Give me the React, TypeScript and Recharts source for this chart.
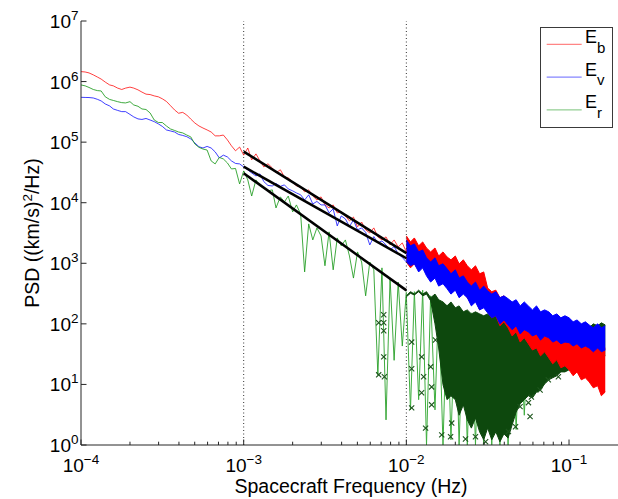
import React from 'react';
import { ComposedChart, Line, Area, Scatter, XAxis, YAxis, ReferenceLine, Legend, Label } from 'recharts';

const W = 618;
const H = 499;
const FONT = '"Liberation Sans", Arial, Helvetica, sans-serif';
const AXIS = '#262626';

const RED = '#ff0000';
const BLUE = '#0000ff';
const GREEN = '#1f9b1f';
const GREEN_LIGHT = '#3fae3f';
const GREEN_DARK = '#0d480d';
const MARK = '#1d561d';

const X_DOMAIN = [1e-4, 0.2];
const Y_DOMAIN = [1, 1e7];

// log-spaced frequency bins, 1e-4 .. 1e-2 Hz
const lowFreq = [
  1.00e-4, 1.06e-4, 1.12e-4, 1.19e-4, 1.26e-4, 1.33e-4, 1.41e-4, 1.50e-4, 1.58e-4, 1.68e-4,
  1.78e-4, 1.88e-4, 2.00e-4, 2.11e-4, 2.24e-4, 2.37e-4, 2.51e-4, 2.66e-4, 2.82e-4, 2.99e-4,
  3.16e-4, 3.35e-4, 3.55e-4, 3.76e-4, 3.98e-4, 4.22e-4, 4.47e-4, 4.73e-4, 5.01e-4, 5.31e-4,
  5.62e-4, 5.96e-4, 6.31e-4, 6.68e-4, 7.08e-4, 7.50e-4, 7.94e-4, 8.41e-4, 8.91e-4, 9.44e-4,
  1.00e-3, 1.06e-3, 1.12e-3, 1.19e-3, 1.26e-3, 1.33e-3, 1.41e-3, 1.50e-3, 1.58e-3, 1.68e-3,
  1.78e-3, 1.88e-3, 2.00e-3, 2.11e-3, 2.24e-3, 2.37e-3, 2.51e-3, 2.66e-3, 2.82e-3, 2.99e-3,
  3.16e-3, 3.35e-3, 3.55e-3, 3.76e-3, 3.98e-3, 4.22e-3, 4.47e-3, 4.73e-3, 5.01e-3, 5.31e-3,
  5.62e-3, 5.96e-3, 6.31e-3, 6.68e-3, 7.08e-3, 7.50e-3, 7.94e-3, 8.41e-3, 8.91e-3, 9.44e-3,
  1.00e-2,
];

// PSD, (km/s)^2/Hz
const ebLow = [
  1.46e6, 1.44e6, 1.39e6, 1.29e6, 1.19e6, 1.10e6, 9.8e5, 8.8e5, 8.5e5, 7.8e5,
  7.4e5, 7.8e5, 8.1e5, 7.8e5, 7.3e5, 6.7e5, 6.2e5, 6.1e5, 5.8e5, 5.6e5,
  5.2e5, 4.7e5, 4.0e5, 3.4e5, 3.0e5, 3.1e5, 2.8e5, 2.4e5, 2.07e5, 1.85e5,
  1.71e5, 1.59e5, 1.47e5, 1.27e5, 1.27e5, 1.31e5, 1.09e5, 8.7e4, 7.2e4, 8.3e4,
  6.1e4, 8.0e4, 5.1e4, 6.4e4, 4.9e4, 3.9e4, 4.4e4, 3.75e4, 3.1e4, 3.5e4,
  2.67e4, 2.57e4, 2.2e4, 1.89e4, 1.82e4, 1.51e4, 1.63e4, 1.29e4, 1.11e4, 1.25e4,
  9.2e3, 8.2e3, 9.2e3, 6.8e3, 7.05e3, 6.05e3, 5.0e3, 5.8e3, 4.0e3, 4.8e3,
  3.56e3, 3.17e3, 3.84e3, 2.73e3, 2.43e3, 2.73e3, 2.01e3, 2.43e3, 1.86e3, 2.17e3,
  1.54e3,
];

const evLow = [
  5.5e5, 5.47e5, 5.45e5, 5.36e5, 5.1e5, 4.79e5, 4.27e5, 3.96e5, 3.53e5, 3.34e5,
  3.19e5, 3.19e5, 2.87e5, 2.61e5, 2.42e5, 2.37e5, 2.46e5, 2.32e5, 2.18e5, 2.0e5,
  1.82e5, 1.59e5, 1.53e5, 1.47e5, 1.34e5, 1.29e5, 1.23e5, 1.13e5, 9.7e4, 8.4e4,
  8.0e4, 8.5e4, 8.0e4, 6.9e4, 5.5e4, 6.1e4, 5.7e4, 4.9e4, 4.45e4, 4.37e4,
  3.9e4, 3.48e4, 3.1e4, 2.77e4, 2.99e4, 2.23e4, 1.93e4, 1.89e4, 2.08e4, 1.86e4,
  1.97e4, 1.69e4, 1.57e4, 1.45e4, 1.35e4, 1.11e4, 1.35e4, 9.55e3, 1.05e4, 9.2e3,
  9.2e3, 6.8e3, 7.9e3, 4.14e3, 6.05e3, 5.4e3, 4.04e3, 5.2e3, 3.56e3, 3.84e3,
  3.24e3, 2.01e3, 2.76e3, 2.17e3, 2.34e3, 2.01e3, 1.66e3, 1.89e3, 1.43e3, 1.25e3,
  1.05e3,
];

const erLow = [
  8.8e5, 8.5e5, 8.0e5, 7.4e5, 7.1e5, 7.0e5, 5.6e5, 5.07e5, 4.88e5, 4.66e5,
  4.49e5, 4.44e5, 4.66e5, 4.11e5, 3.91e5, 3.53e5, 3.46e5, 3.03e5, 2.32e5, 2.11e5,
  2.11e5, 1.85e5, 1.65e5, 1.56e5, 1.47e5, 1.42e5, 1.31e5, 1.22e5, 9.3e4, 8.2e4,
  7.7e4, 7.4e4, 4.9e4, 4.37e4, 5.6e4, 5.28e4, 4.54e4, 3.61e4, 3.68e4, 2.04e4,
  3.35e4, 2.38e4, 1.29e4, 2.38e4, 1.89e4, 1.75e4, 1.57e4, 1.63e4, 8.2e3, 1.25e4,
  1.03e4, 1.29e4, 7.05e3, 9.2e3, 6.5e3, 7.2e2, 4.47e3, 2.43e3, 3.84e3, 2.83e3,
  9.1e2, 3.3e3, 7.8e2, 2.62e3, 1.94e3, 2.43e3, 1.32e3, 5.7e2, 1.54e3, 1.05e3,
  2.9e2, 1.05e3, 7.8e2, 14.4, 8.4e2, 2.6, 5.7e2, 25, 4.9e2, 43,
  3.4e2,
];

// above 1e-2 Hz the spectra are noise-dominated: spread given as lower / upper envelope
const highFreq = [
  1.00e-2, 1.06e-2, 1.12e-2, 1.19e-2, 1.26e-2, 1.33e-2, 1.41e-2, 1.50e-2, 1.58e-2, 1.68e-2,
  1.78e-2, 1.88e-2, 2.00e-2, 2.11e-2, 2.24e-2, 2.37e-2, 2.51e-2, 2.66e-2, 2.82e-2, 2.99e-2,
  3.16e-2, 3.35e-2, 3.55e-2, 3.76e-2, 3.98e-2, 4.22e-2, 4.47e-2, 4.73e-2, 5.01e-2, 5.31e-2,
  5.62e-2, 5.96e-2, 6.31e-2, 6.68e-2, 7.08e-2, 7.50e-2, 7.94e-2, 8.41e-2, 8.91e-2, 9.44e-2,
  0.100, 0.106, 0.112, 0.119, 0.126, 0.133, 0.141, 0.150, 0.158, 0.167,
];

const ebHi = [
  2.83e3, 2.25e3, 2.62e3, 1.94e3, 2.25e3, 1.79e3, 1.54e3, 1.79e3, 1.32e3, 1.54e3,
  1.27e3, 1.14e3, 1.32e3, 9.8e2, 1.14e3, 9.1e2, 7.8e2, 9.1e2, 6.7e2, 7.2e2,
  3.9e2, 3.4e2, 3.6e2, 2.7e2, 2.9e2, 2.3e2, 2.14e2, 2.3e2, 1.84e2, 1.98e2,
  1.84e2, 1.58e2, 1.70e2, 1.26e2, 1.36e2, 1.16e2, 1.00e2, 1.08e2, 86, 93,
  80, 68, 74, 59, 63, 54, 47, 50, 40, 40,
];
const ebLo = [
  1.05e3, 8.4e2, 9.8e2, 7.8e2, 9.1e2, 7.2e2, 6.2e2, 6.7e2, 4.9e2, 5.7e2,
  4.6e2, 3.6e2, 4.2e2, 3.1e2, 3.4e2, 2.7e2, 2.14e2, 2.5e2, 1.70e2, 1.98e2,
  1.58e2, 1.26e2, 1.36e2, 93, 1.08e2, 86, 63, 74, 50, 59,
  47, 37, 40, 29.6, 34.5, 27.5, 21.9, 25.5, 18.8, 20.3,
  17.4, 13.9, 16.1, 11.9, 12.9, 11.0, 8.8, 9.5, 6.5, 7.5,
];

const evHi = [
  2.43e3, 1.94e3, 2.09e3, 1.54e3, 1.66e3, 1.23e3, 1.05e3, 1.23e3, 9.1e2, 9.8e2,
  8.1e2, 6.7e2, 7.8e2, 5.7e2, 6.2e2, 4.9e2, 4.2e2, 4.9e2, 3.6e2, 4.2e2,
  3.5e2, 3.1e2, 3.4e2, 2.7e2, 2.9e2, 2.6e2, 2.3e2, 2.5e2, 1.98e2, 2.3e2,
  1.98e2, 1.70e2, 1.98e2, 1.58e2, 1.70e2, 1.58e2, 1.36e2, 1.46e2, 1.26e2, 1.36e2,
  1.26e2, 1.08e2, 1.16e2, 1.00e2, 1.08e2, 96, 86, 1.00e2, 86, 93,
];
const evLo = [
  1.05e3, 9.1e2, 9.8e2, 7.2e2, 8.4e2, 6.2e2, 4.9e2, 5.7e2, 4.2e2, 4.6e2,
  3.8e2, 3.1e2, 3.6e2, 2.7e2, 3.1e2, 2.7e2, 1.98e2, 2.3e2, 1.70e2, 1.84e2,
  1.52e2, 1.26e2, 1.36e2, 1.00e2, 1.16e2, 96, 80, 93, 68, 80,
  74, 63, 68, 54, 63, 59, 50, 54, 47, 50,
  49, 43, 47, 40, 43, 40, 34.5, 40, 34.5, 37,
];

const erHi = [
  2.9e2, 3.4e2, 3.1e2, 3.6e2, 3.1e2, 3.4e2, 2.7e2, 3.1e2, 2.5e2, 2.3e2,
  1.98e2, 2.3e2, 1.84e2, 1.98e2, 1.58e2, 1.70e2, 1.46e2, 1.58e2, 1.46e2, 1.36e2,
  1.46e2, 1.26e2, 1.36e2, 1.08e2, 1.16e2, 1.00e2, 1.08e2, 93, 1.00e2, 86,
  93, 80, 86, 74, 80, 74, 80, 71, 80, 74,
  80, 77, 86, 80, 93, 86, 1.00e2, 93, 1.04e2, 96,
];
const erLo = [
  2.8e2, 3.2e2, 3.0e2, 3.4e2, 2.9e2, 3.1e2, 2.4e2, 1.0e2, 40, 9.9,
  5.6, 6.5, 5.6, 3.1, 4.6, 2.6, 1.9, 2.8, 1.65, 1.22,
  1.9, 1.22, 1.65, 1.13, 1.53, 1.3, 2.15, 3.5, 4.8, 5.6,
  6.5, 6.0, 7.5, 8.1, 10.2, 11.9, 12.9, 13.9, 16.1, 16.1,
  17.4, 18.8, 19.5, 21.9, 23.6, 24.5, 25.5, 27.5, 28.5, 29.6,
];

// E_r dropouts between 1e-2 and 5.6e-2 Hz (same bins as highFreq)
const erDrop = [
  3.0e2, 3.8, 3.4e2, 5.6, 3.6e2, 1.0, 2.9e2, 3.8, 2.5e2, 1.0,
  2.06e2, 1.22, 1.84e2, 1.0, 1.58e2, 1.0, 1.52e2, 1.0, 1.46e2, 1.0,
  1.36e2, 1.0, 1.16e2, 1.0, 1.08e2, 1.0, 96, 1.8, 86, 3.1,
  80,
];

// flagged E_r estimates
const erFlagFreq = [
  6.76e-3, 7.26e-3, 7.26e-3, 7.26e-3, 7.26e-3, 6.76e-3, 7.33e-3, 1.078e-2, 1.078e-2, 1.078e-2,
  1.241e-2, 1.313e-2, 1.43e-2, 1.65e-2, 1.87e-2, 4.24e-2, 5.0e-2, 5.76e-2, 5.87e-2, 6.64e-2,
  1.241e-2, 1.277e-2, 1.43e-2, 1.51e-2, 1.41e-2, 1.90e-2, 2.31e-2, 3.07e-2, 2.66e-2, 4.69e-2,
  5.63e-2, 7.46e-2, 8.6e-2,
];
const erFlagPsd = [
  104, 141, 104, 77, 28.5, 14.4, 13.4, 50, 18.1, 4.1,
  7.3, 1.9, 4.6, 1.47, 1.37, 1.67, 4.3, 2.95, 6.2, 8.1,
  28.5, 13.4, 9.1, 54, 19.5, 2.3, 1.26, 1.13, 1.37, 2.0,
  5.0, 11.9, 13.4,
];

// power-law fits over 1e-3 .. 1e-2 Hz
const fitFreq = [1e-3, 1e-2];
const ebFit = [6.97e4, 1.47e3];
const evFit = [3.94e4, 1.21e3];
const erFit = [3.07e4, 3.57e2];

const xMajor = [1e-4, 1e-3, 1e-2, 1e-1];
const xMinor = [
  2e-4, 3e-4, 4e-4, 5e-4, 6e-4, 7e-4, 8e-4, 9e-4,
  2e-3, 3e-3, 4e-3, 5e-3, 6e-3, 7e-3, 8e-3, 9e-3,
  2e-2, 3e-2, 4e-2, 5e-2, 6e-2, 7e-2, 8e-2, 9e-2,
];
const xTicks = [...xMajor, ...xMinor].sort((a, b) => a - b);
const yTicks = [1, 10, 1e2, 1e3, 1e4, 1e5, 1e6, 1e7];

const legendItems = [
  { sub: 'b', color: RED },
  { sub: 'v', color: BLUE },
  { sub: 'r', color: GREEN },
];

const toRows = (freq: number[], psd: number[]) => psd.map((v, i) => ({ f: freq[i], v }));
const toBand = (freq: number[], lo: number[], hi: number[]) =>
  freq.map((f, i) => ({ f, range: [lo[i], hi[i]] }));

const ebLowRows = toRows(lowFreq, ebLow);
const evLowRows = toRows(lowFreq, evLow);
const erLowRows = toRows(lowFreq, erLow);
const ebBand = toBand(highFreq, ebLo, ebHi);
const evBand = toBand(highFreq, evLo, evHi);
const erBand = toBand(highFreq, erLo, erHi);
const erDropRows = toRows(highFreq, erDrop);
const erFlagRows = toRows(erFlagFreq, erFlagPsd);
const ebFitRows = toRows(fitFreq, ebFit);
const evFitRows = toRows(fitFreq, evFit);
const erFitRows = toRows(fitFreq, erFit);

const isDecade = (v: number) => Math.abs(Math.log10(v) - Math.round(Math.log10(v))) < 1e-6;
const expOf = (v: number) => Math.round(Math.log10(v));

const Pow10 = ({ x, y, exp, anchor }: any) => (
  <text x={x} y={y} textAnchor={anchor} fontFamily={FONT} fontSize={19} fill="#000">
    10
    <tspan dy={-8} fontSize={13.5}>{exp < 0 ? `\u2212${-exp}` : `${exp}`}</tspan>
  </text>
);

const BottomTick = (props: any) => {
  const { x, y, payload } = props;
  const major = isDecade(payload.value);
  return (
    <g>
      <line x1={x} x2={x} y1={y} y2={y - (major ? 5.5 : 3.3)} stroke={AXIS} />
      {major && <Pow10 x={x} y={y + 26.5} exp={expOf(payload.value)} anchor="middle" />}
    </g>
  );
};

const TopTick = (props: any) => {
  const { x, y, payload } = props;
  const major = isDecade(payload.value);
  return <line x1={x} x2={x} y1={y} y2={y + (major ? 5.5 : 3.3)} stroke={AXIS} />;
};

const LeftTick = (props: any) => {
  const { x, y, payload } = props;
  return (
    <g>
      <line x1={x} x2={x + 5.5} y1={y} y2={y} stroke={AXIS} />
      <Pow10 x={x - 2.5} y={y + 7} exp={expOf(payload.value)} anchor="end" />
    </g>
  );
};

const RightTick = (props: any) => {
  const { x, y } = props;
  return <line x1={x} x2={x - 5.5} y1={y} y2={y} stroke={AXIS} />;
};

const Cross = (props: any) => {
  const { cx, cy } = props;
  if (cx == null || cy == null) return null;
  const s = 2.6;
  return (
    <path
      d={`M${cx - s},${cy - s}L${cx + s},${cy + s}M${cx - s},${cy + s}L${cx + s},${cy - s}`}
      stroke={MARK}
      strokeWidth={1.1}
      fill="none"
    />
  );
};

const LegendBox = () => (
  <svg width={74} height={102} style={{ display: 'block' }}>
    <rect x={0.5} y={0.5} width={72} height={100} fill="#fff" stroke="#3a3a3a" />
    {legendItems.map((it, i) => (
      <g key={it.sub}>
        <line x1={6.7} x2={41.7} y1={17.3 + i * 32.8} y2={17.3 + i * 32.8} stroke={it.color} strokeOpacity={0.6} />
        <text x={45} y={16.3 + i * 32.5} fontFamily={FONT} fontSize={18} fill="#000">
          E<tspan dy={9.5} fontSize={15}>{it.sub}</tspan>
        </text>
      </g>
    ))}
  </svg>
);

const XTitle = (props: any) => {
  const vb = props.viewBox;
  return (
    <text x={vb.x + vb.width / 2 + 1.5} y={vb.y + 48} textAnchor="middle" fontFamily={FONT} fontSize={19.5} fill="#000">
      Spacecraft Frequency (Hz)
    </text>
  );
};

const YTitle = (props: any) => {
  const vb = props.viewBox;
  const cx = vb.x + 39;
  const cy = vb.y + vb.height / 2;
  return (
    <text x={cx} y={cy} transform={`rotate(-90, ${cx}, ${cy})`} textAnchor="middle" fontFamily={FONT} fontSize={19.5} fill="#000">
      PSD ((km/s)
      <tspan dy={-7} fontSize={13.5}>2</tspan>
      <tspan dy={7}>/Hz)</tspan>
    </text>
  );
};

const lineProps = { dot: false, activeDot: false, isAnimationActive: false, type: 'linear' as const };

export default function App() {
  return (
    <div style={{ position: 'absolute', left: 0, top: 0, width: W, height: H, background: '#fff' }}>
      <ComposedChart width={W} height={H} margin={{ top: 21, right: 0, bottom: 0, left: 0 }}>
        <XAxis
          dataKey="f"
          type="number"
          scale="log"
          domain={X_DOMAIN}
          allowDataOverflow
          ticks={xTicks}
          interval={0}
          height={54}
          tickSize={0}
          tickMargin={0}
          tickLine={false}
          tick={<BottomTick />}
          axisLine={{ stroke: AXIS }}
        >
          <Label content={<XTitle />} />
        </XAxis>
        <XAxis
          xAxisId="top"
          orientation="top"
          type="number"
          scale="log"
          domain={X_DOMAIN}
          allowDataOverflow
          ticks={xTicks}
          interval={0}
          height={0}
          tickSize={0}
          tickMargin={0}
          tickLine={false}
          tick={<TopTick />}
          axisLine={{ stroke: AXIS }}
        />
        <YAxis
          type="number"
          scale="log"
          domain={Y_DOMAIN}
          allowDataOverflow
          ticks={yTicks}
          interval={0}
          width={81}
          tickSize={0}
          tickMargin={0}
          tickLine={false}
          tick={<LeftTick />}
          axisLine={{ stroke: AXIS }}
        >
          <Label content={<YTitle />} />
        </YAxis>
        <YAxis
          yAxisId="right"
          orientation="right"
          type="number"
          scale="log"
          domain={Y_DOMAIN}
          allowDataOverflow
          ticks={yTicks}
          interval={0}
          width={0}
          tickSize={0}
          tickMargin={0}
          tickLine={false}
          tick={<RightTick />}
          axisLine={{ stroke: AXIS }}
        />

        <ReferenceLine x={1e-3} stroke="#333" strokeDasharray="1 2.5" />
        <ReferenceLine x={1e-2} stroke="#333" strokeDasharray="1 2.5" />

        {/* E_r above 1e-2 Hz: dropouts, then the dense spread */}
        <Area data={erDropRows} dataKey="v" {...lineProps} stroke={GREEN_LIGHT} strokeWidth={1} fill="none" baseValue={1} />
        <Area data={erBand} dataKey="range" {...lineProps} stroke={GREEN_DARK} strokeWidth={1} fill={GREEN_DARK} fillOpacity={1} />
        <Area data={ebBand} dataKey="range" {...lineProps} stroke={RED} strokeWidth={1} fill={RED} fillOpacity={1} />
        <Area data={evBand} dataKey="range" {...lineProps} stroke={BLUE} strokeWidth={1} fill={BLUE} fillOpacity={1} />

        <Line data={ebLowRows} dataKey="v" {...lineProps} stroke={RED} strokeWidth={1} strokeOpacity={0.75} />
        <Line data={evLowRows} dataKey="v" {...lineProps} stroke={BLUE} strokeWidth={1} strokeOpacity={0.75} />
        <Line data={erLowRows} dataKey="v" {...lineProps} stroke={GREEN} strokeWidth={1} strokeOpacity={0.85} />

        <Scatter data={erFlagRows} dataKey="v" shape={<Cross />} isAnimationActive={false} />

        <Line data={ebFitRows} dataKey="v" {...lineProps} stroke="#000" strokeWidth={2.5} />
        <Line data={evFitRows} dataKey="v" {...lineProps} stroke="#000" strokeWidth={2.5} />
        <Line data={erFitRows} dataKey="v" {...lineProps} stroke="#000" strokeWidth={2.5} />

        <Legend
          layout="vertical"
          align="center"
          verticalAlign="middle"
          content={() => <LegendBox />}
          wrapperStyle={{ left: 540, top: 27, width: 74, height: 102 }}
        />
      </ComposedChart>
    </div>
  );
}
